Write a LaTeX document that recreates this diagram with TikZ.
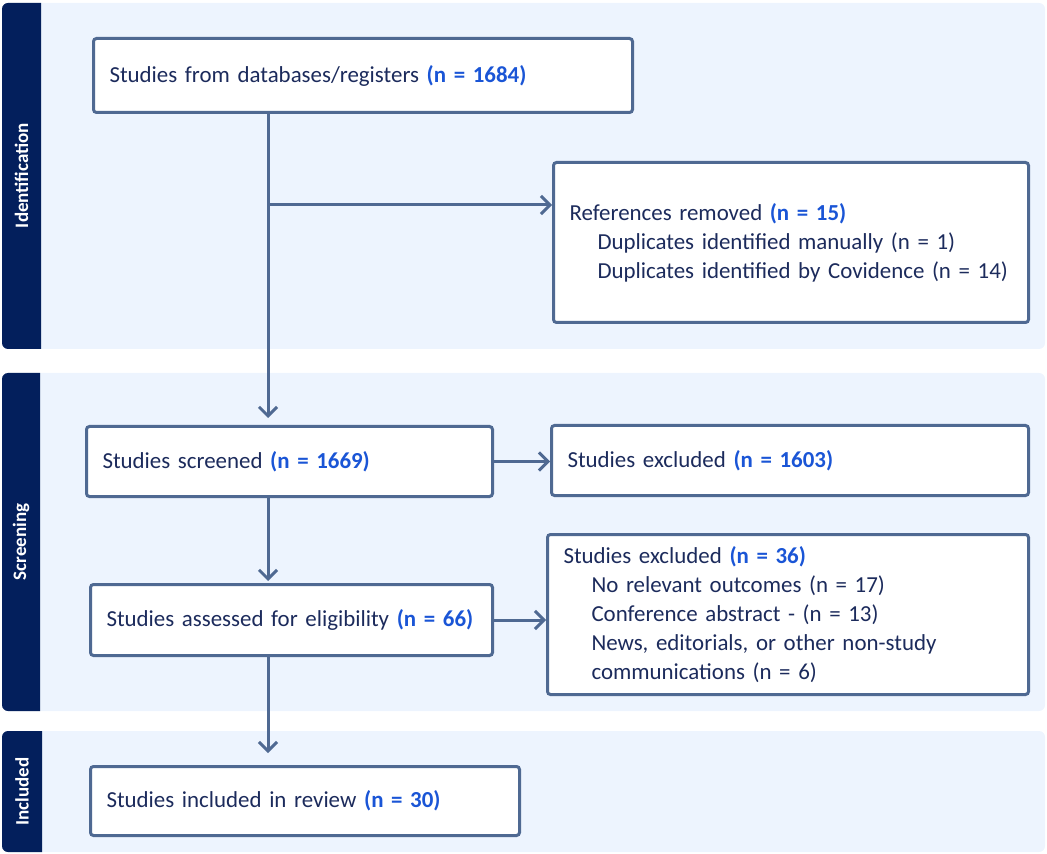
\documentclass[tikz,border=0pt]{standalone}
\usepackage{fontspec}
\setmainfont{Carlito}
\usepackage{tikz}
\usetikzlibrary{arrows.meta, positioning}
\definecolor{bandblue}{HTML}{031F5C}
\definecolor{panelblue}{HTML}{EDF4FE}
\definecolor{edgeblue}{HTML}{4F6992}
\definecolor{inkblue}{HTML}{1C2B5C}
\definecolor{countblue}{HTML}{1A55D6}
\newcommand{\cnt}[1]{\textbf{\textcolor{countblue}{#1}}}
\newcommand{\ind}{\hspace*{14pt}}
\tikzset{
  panel/.style = {fill=panelblue, rounded corners=3pt},
  phase/.style = {rotate=90, text=white, font=\bfseries\fontsize{9.5}{11}\selectfont},
  flowbox/.style = {draw=edgeblue, line width=1.5pt, fill=white,
    rounded corners=1.5pt, anchor=north west, align=left,
    inner xsep=8pt, inner ysep=0pt, text=inkblue,
    font=\fontsize{11.45}{14.5}\selectfont},
  flow/.style = {draw=edgeblue, line width=1.5pt,
    -{Straight Barb[length=4.5pt,width=9pt]}}
}

\begin{document}
\begin{tikzpicture}[x=0.5pt, y=-0.5pt]
\useasboundingbox (0,0) rectangle (1047,854);

% stages
\fill[panel] (2,3) rectangle (1045,349);
\fill[bandblue] (41,3) {[rounded corners=3pt] -- (2,3) -- (2,349)} -- (41,349) -- cycle;
\node[phase] (ident) at (21.5,175.5) {Identification};
\fill[panel] (2,373) rectangle (1045,711);
\fill[bandblue] (40,373) {[rounded corners=3pt] -- (2,373) -- (2,711)} -- (40,711) -- cycle;
\node[phase] (screen) at (21,542) {Screening};
\fill[panel] (2,731) rectangle (1045,852);
\fill[bandblue] (42,731) {[rounded corners=3pt] -- (2,731) -- (2,852)} -- (42,852) -- cycle;
\node[phase] (incl) at (22,791.5) {Included};

% boxes
\node[flowbox, text width=253.5pt, minimum height=37pt] (dbs) at (92,37)
  {Studies from databases/registers \cnt{(n = 1684)}};
\node[flowbox, text width=221.5pt, minimum height=80pt] (removed) at (552,161)
  {References removed \cnt{(n = 15)}\\
   \ind Duplicates identified manually (n = 1)\\
   \ind Duplicates identified by Covidence (n~=~14)};
\node[flowbox, text width=187pt, minimum height=35pt] (screened) at (85,425)
  {Studies screened \cnt{(n = 1669)}};
\node[flowbox, text width=222.5pt, minimum height=35pt] (excl1) at (550,424)
  {Studies excluded \cnt{(n = 1603)}};
\node[flowbox, text width=185pt, minimum height=35.5pt] (assessed) at (89,583)
  {Studies assessed for eligibility \cnt{(n~=~66)}};
\node[flowbox, text width=224.5pt, minimum height=80pt] (excl2) at (546,533)
  {Studies excluded \cnt{(n = 36)}\\
   \ind No relevant outcomes (n = 17)\\
   \ind Conference abstract - (n = 13)\\
   \ind News, editorials, or other non-study\\
   \ind communications (n = 6)};
\node[flowbox, text width=198.5pt, minimum height=34.5pt] (included) at (89,765)
  {Studies included in review \cnt{(n = 30)}};

% connectors
\coordinate (spine) at (268,0);
\coordinate (branch) at (268,205);
\draw[flow, shorten >=3.5pt] (dbs.south -| spine) -- (screened.north -| spine);
\draw[flow] (branch) -- (branch -| removed.west);
\draw[flow] (screened.east) -- (screened.east -| excl1.west);
\draw[flow, shorten >=1pt] (screened.south -| spine) -- (assessed.north -| spine);
\draw[flow] (assessed.east) -- (assessed.east -| excl2.west);
\draw[flow, shorten >=6pt] (assessed.south -| spine) -- (included.north -| spine);
\end{tikzpicture}
\end{document}
